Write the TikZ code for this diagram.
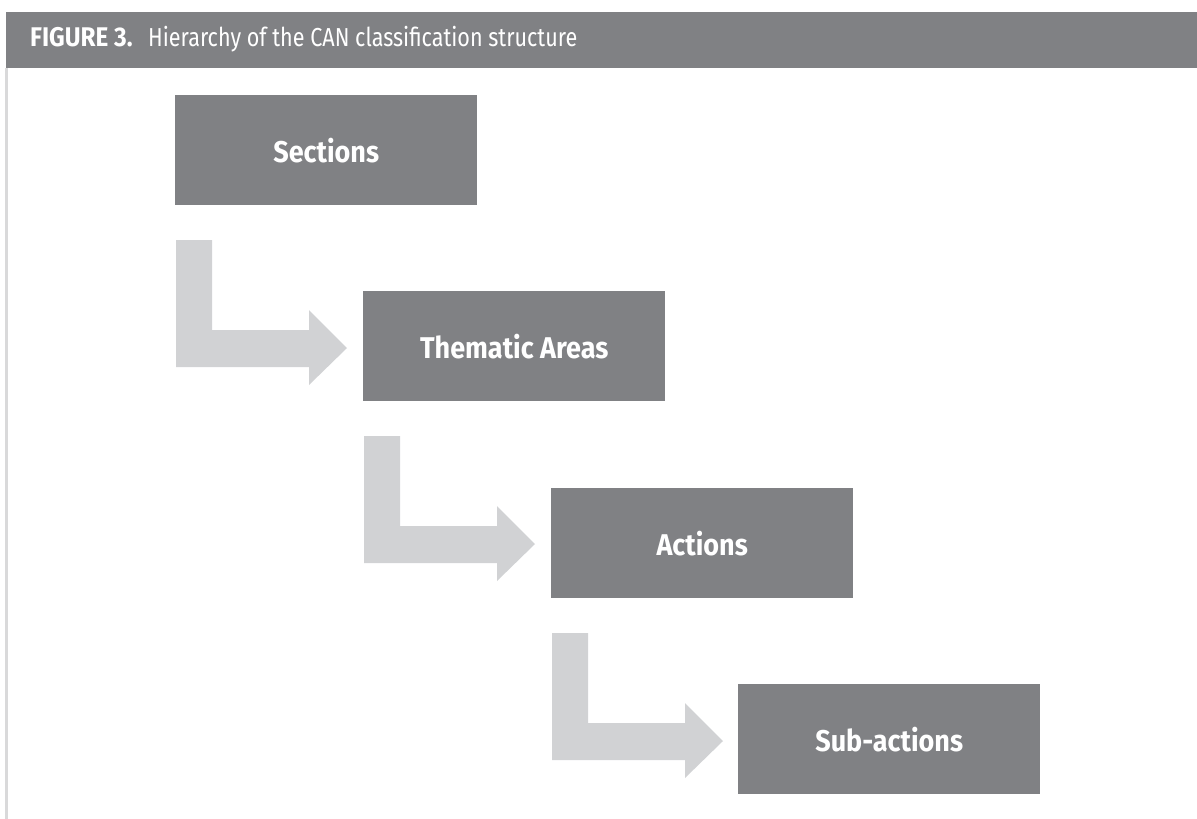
\documentclass[tikz,border=0pt]{standalone}
\usepackage{fontspec}
\setmainfont[FakeStretch=0.83]{Fira Sans}
\newfontfamily\figfont[FakeStretch=0.9]{Fira Sans}
\newfontfamily\boxfont[FakeStretch=0.9]{Fira Sans}
\usetikzlibrary{calc}
\definecolor{boxgray}{RGB}{128,129,132}
\definecolor{arrowgray}{RGB}{209,210,212}
\definecolor{linegray}{RGB}{217,217,218}
\tikzset{
  levelbox/.style={fill=boxgray, draw=none, minimum width=302pt, minimum height=110pt,
    anchor=north west, inner sep=0pt, text=white, font=\boxfont\fontsize{30}{34}\selectfont\bfseries},
  bentarrow/.style={fill=arrowgray, draw=none},
  headtext/.style={anchor=base west, inner sep=0pt, text=white}
}
\begin{document}
\begin{tikzpicture}[x=1pt,y=-1pt]
\useasboundingbox (0,0) rectangle (1197,819);
% header bar and left rule
\fill[boxgray] (6,12) rectangle (1197,68);
\fill[linegray] (5,68) rectangle (8,819);
\node[headtext, font=\figfont\fontsize{27}{30}\selectfont\bfseries] (fig) at (30,46) {FIGURE 3.};
\node[headtext, font=\fontsize{26}{30}\selectfont] (title) at (148,46) {Hierarchy of the CAN classification structure};
% boxes
\node[levelbox] (b1) at (175,95) {Sections};
\node[levelbox] (b2) at (363,291) {Thematic Areas};
\node[levelbox] (b3) at (551,488) {Actions};
\node[levelbox] (b4) at (738,684) {Sub-actions};
% bent arrows
\foreach \a in {b1,b2,b3}{
  \fill[bentarrow]
    ($(\a.north west)+(1,145)$) --
    ($(\a.north west)+(37,145)$) --
    ($(\a.north west)+(37,235)$) --
    ($(\a.north west)+(134,235)$) --
    ($(\a.north west)+(134,215)$) --
    ($(\a.north west)+(172,253)$) --
    ($(\a.north west)+(134,290)$) --
    ($(\a.north west)+(134,272)$) --
    ($(\a.north west)+(1,272)$) -- cycle;
}
\end{tikzpicture}
\end{document}
